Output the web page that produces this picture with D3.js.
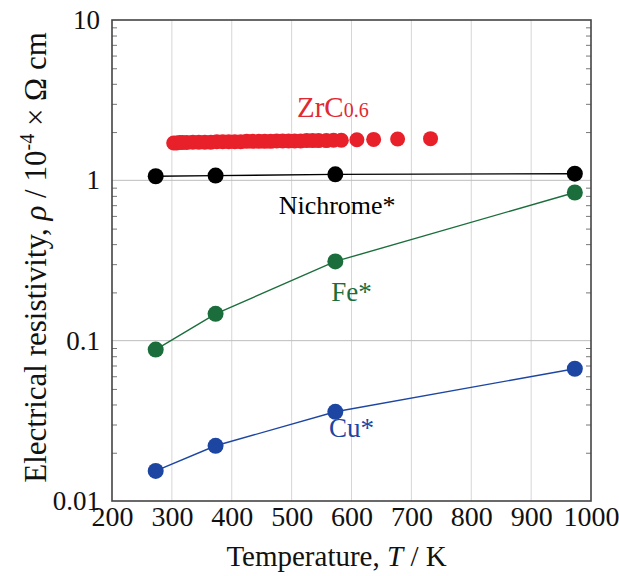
<!DOCTYPE html>
<html lang="en">
<head>
<meta charset="utf-8">
<title>Resistivity</title>
<script src="https://d3js.org/d3.v7.min.js"></script>
<style>
  body { margin: 0; background: #fff; }
  svg text { font-family: "Liberation Serif", "DejaVu Serif", serif; }
</style>
</head>
<body>
<div id="chart"></div>
<script>
// data
const tempRef = [273, 373, 573, 973];
const nichrome = [1.06, 1.07, 1.09, 1.1];
const fe = [0.088, 0.147, 0.312, 0.84];
const cu = [0.0154, 0.0221, 0.036, 0.0668];

const zrcT = [303, 308, 313, 318, 325, 335, 345, 355, 365, 375, 385, 395, 405, 415, 425,
  435, 445, 455, 465, 475, 485, 495, 505, 515, 525, 535, 545, 558, 570, 583, 609, 637, 677, 732];
const zrcRho = [1.71, 1.71, 1.72, 1.72, 1.72, 1.73, 1.73, 1.73, 1.73, 1.74, 1.74, 1.74, 1.74, 1.74, 1.75,
  1.75, 1.75, 1.75, 1.75, 1.76, 1.76, 1.76, 1.76, 1.76, 1.77, 1.77, 1.77, 1.77, 1.78, 1.78, 1.79, 1.8, 1.81, 1.82];

const xTicks = [200, 300, 400, 500, 600, 700, 800, 900, 1000];
const yTicks = [0.01, 0.1, 1, 10];

const W = 619, H = 576;
const margin = {top: 20, right: 28, bottom: 75, left: 112};
const width = W - margin.left - margin.right,
      height = H - margin.top - margin.bottom;
const serif = "'Liberation Serif', 'DejaVu Serif', serif";

const svg = d3.select("#chart").append("svg")
  .attr("width", W).attr("height", H);
const g = svg.append("g")
  .attr("transform", "translate(" + margin.left + "," + margin.top + ")");

const x = d3.scaleLinear().domain([200, 1000]).range([0, width]);
const y = d3.scaleLog().domain([0.01, 10]).range([height, 0]);

// grid
g.selectAll(".vgrid").data(xTicks.slice(1, -1)).join("line")
  .attr("x1", d => x(d)).attr("x2", d => x(d))
  .attr("y1", 0).attr("y2", height)
  .attr("stroke", "#d6d6d6").attr("stroke-width", 1);
g.selectAll(".hgrid").data(yTicks.slice(1, -1)).join("line")
  .attr("x1", 0).attr("x2", width)
  .attr("y1", d => y(d)).attr("y2", d => y(d))
  .attr("stroke", "#bdbdbd").attr("stroke-width", 1);

// minor ticks inside left and right
const minor = [];
[0.01, 0.1, 1].forEach(dec => { for (let k = 2; k <= 9; k++) minor.push(dec * k); });
g.append("g").call(d3.axisLeft(y).tickValues(minor).tickSize(-5).tickFormat(""))
  .call(a => a.select(".domain").remove())
  .selectAll("line").attr("stroke", "#777");
g.append("g").attr("transform", "translate(" + width + ",0)")
  .call(d3.axisRight(y).tickValues(minor).tickSize(-5).tickFormat(""))
  .call(a => a.select(".domain").remove())
  .selectAll("line").attr("stroke", "#777");

// frame
g.append("rect").attr("width", width).attr("height", height)
  .attr("fill", "none").attr("stroke", "#444").attr("stroke-width", 1.6);

// tick labels
g.append("g").attr("transform", "translate(0," + height + ")")
  .call(d3.axisBottom(x).tickValues(xTicks).tickSize(0).tickPadding(5).tickFormat(d3.format("d")))
  .call(a => a.select(".domain").remove())
  .selectAll("text").style("font-size", "28px").style("font-family", serif).attr("fill", "#111");
g.append("g")
  .call(d3.axisLeft(y).tickValues(yTicks).tickSize(0).tickPadding(12)
    .tickFormat(d => d >= 1 ? d3.format("d")(d) : String(d)))
  .call(a => a.select(".domain").remove())
  .selectAll("text").style("font-size", "27px").style("font-family", serif).attr("fill", "#111");

// series
const series = [
  {name: "Nichrome", vals: nichrome, color: "#000000"},
  {name: "Fe", vals: fe, color: "#1b6e3c"},
  {name: "Cu", vals: cu, color: "#1d46a2"}
];
const line = d3.line().x(d => x(d[0])).y(d => y(d[1]));
series.forEach(s => {
  const pts = tempRef.map((t, i) => [t, s.vals[i]]);
  g.append("path").datum(pts).attr("d", line)
    .attr("fill", "none").attr("stroke", s.color).attr("stroke-width", 1.4);
  g.selectAll(null).data(pts).join("circle")
    .attr("cx", d => x(d[0])).attr("cy", d => y(d[1])).attr("r", 8)
    .attr("fill", s.color);
});

g.selectAll(null).data(zrcT.map((t, i) => [t, zrcRho[i]])).join("circle")
  .attr("cx", d => x(d[0])).attr("cy", d => y(d[1])).attr("r", 7.5)
  .attr("fill", "#e8202a");

// in-plot labels
const zl = g.append("text").attr("x", x(509)).attr("y", y(2.48))
  .style("font-size", "29px").attr("fill", "#e02a33");
zl.append("tspan").text("ZrC");
zl.append("tspan").style("font-size", "20px").text("0.6");

g.append("text").attr("x", x(576)).attr("y", y(0.62)).attr("text-anchor", "middle")
  .style("font-size", "26px").attr("fill", "#000").text("Nichrome*");
g.append("text").attr("x", x(600)).attr("y", y(0.178)).attr("text-anchor", "middle")
  .style("font-size", "27px").attr("fill", "#1b6e3c").text("Fe*");
g.append("text").attr("x", x(600)).attr("y", y(0.025)).attr("text-anchor", "middle")
  .style("font-size", "27px").attr("fill", "#1d46a2").text("Cu*");

// axis titles
const xt = svg.append("text").attr("x", margin.left + width / 2 - 15).attr("y", 566)
  .attr("text-anchor", "middle").style("font-size", "29px").attr("fill", "#111");
xt.append("tspan").text("Temperature, ");
xt.append("tspan").attr("font-style", "italic").text("T");
xt.append("tspan").text(" / K");

const yt = svg.append("text")
  .attr("transform", "translate(46," + (margin.top + height / 2 - 3) + ") rotate(-90)")
  .attr("text-anchor", "middle").style("font-size", "31px").attr("fill", "#111");
yt.append("tspan").text("Electrical resistivity, ");
yt.append("tspan").attr("font-style", "italic").text("ρ");
yt.append("tspan").text(" / 10");
yt.append("tspan").style("font-size", "20px").attr("dy", -12).text("-4");
yt.append("tspan").attr("dy", 12).text(" × Ω cm");
</script>
</body>
</html>
